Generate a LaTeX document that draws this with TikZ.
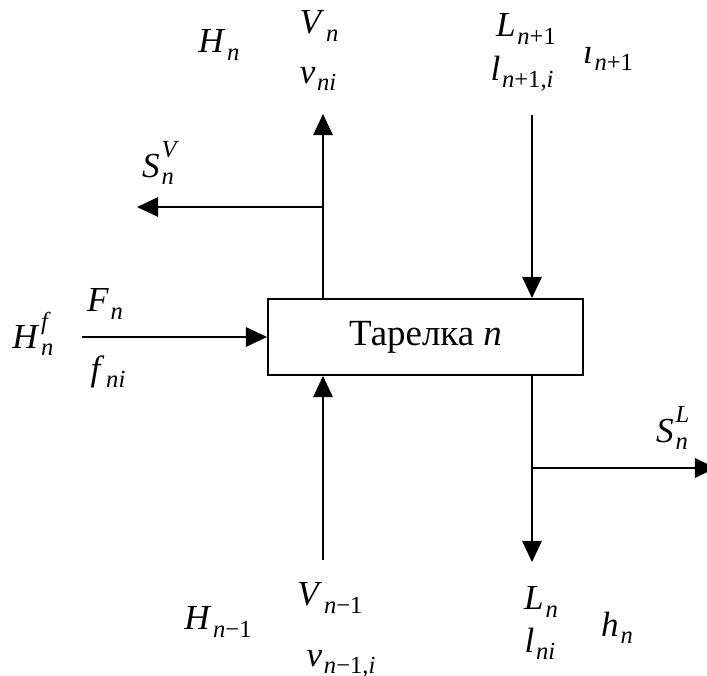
\documentclass[tikz,border=0pt]{standalone}
\usepackage{fontspec}
\setmainfont{Liberation Serif}[ItalicFont={Liberation Serif Italic}]
\usetikzlibrary{arrows.meta}

\newcommand{\subfont}{\fontsize{14}{14}\selectfont}
\newcommand{\flowsym}[3]{\textit{#1}\kern1pt\makebox[0pt][l]{\raisebox{0.55em}{\subfont #3}}\raisebox{-0.2em}{\subfont #2}}

\tikzset{
  flow/.style={-{Triangle[length=12pt,width=11pt]}},
  sym/.style={inner sep=0pt, font=\fontsize{20}{24}\selectfont}
}

\begin{document}
\begin{tikzpicture}[x=0.02cm, y=-0.02cm, line width=1.1pt]
    \useasboundingbox (0,0) rectangle (707,676);

    % Nodes
    \node[draw, rectangle, minimum width=6.3cm, minimum height=1.52cm, font=\fontsize{21}{25}\selectfont] (tray) at (425.5,337) {Тарелка \textit{n}};

    \node[sym] (hn) at (219,45) {\flowsym{H}{\textit{n}}{}};
    \node[sym] (vn) at (319,26) {\flowsym{V}{\textit{n}}{}};
    \node[sym] (vni) at (318,77) {\flowsym{v}{\textit{ni}}{}};
    \node[sym] (lup) at (526,29) {\flowsym{L}{\textit{n}+1}{}};
    \node[sym] (lupi) at (522,74) {\flowsym{l}{\textit{n}+1,\textit{i}}{}};
    \node[sym] (hup) at (608,57) {\flowsym{ı}{\textit{n}+1}{}};
    \node[sym] (hf) at (33,334) {\flowsym{H}{\textit{n}}{\textit{f}}};
    \node[sym] (fn) at (105,304) {\flowsym{F}{\textit{n}}{}};
    \node[sym] (fni) at (108,372) {\flowsym{f}{\textit{ni}}{}};
    \node[sym] (sv) at (158,163) {\flowsym{S}{\textit{n}}{\textit{V}}};
    \node[sym] (sl) at (672,428) {\flowsym{S}{\textit{n}}{\textit{L}}};
    \node[sym] (hdown) at (218,622) {\flowsym{H}{\textit{n}−1}{}};
    \node[sym] (vdown) at (330,598) {\flowsym{V}{\textit{n}−1}{}};
    \node[sym] (vdowni) at (341,662) {\flowsym{v}{\textit{n}−1,\textit{i}}{}};
    \node[sym] (ln) at (541,602) {\flowsym{L}{\textit{n}}{}};
    \node[sym] (lni) at (540,644) {\flowsym{l}{\textit{ni}}{}};
    \node[sym] (hln) at (617,628) {\flowsym{h}{\textit{n}}{}};

    % Free ends
    \coordinate (vout) at (323,114);
    \coordinate (vsplit) at (323,207);
    \coordinate (svout) at (137,207);
    \coordinate (lin) at (532,115);
    \coordinate (fin) at (82,337);
    \coordinate (vin) at (323,560);
    \coordinate (lout) at (532,562);
    \coordinate (lsplit) at (532,468);
    \coordinate (slout) at (716,468);

    % Arrows
    \draw[flow] (tray.north -| vout) -- (vout);
    \draw[flow] (vsplit) -- (svout);
    \draw[flow] (lin) -- (tray.north -| lin);
    \draw[flow] (fin) -- (tray.west);
    \draw[flow] (vin) -- (tray.south -| vin);
    \draw[flow] (tray.south -| lout) -- (lout);
    \draw[flow] (lsplit) -- (slout);
\end{tikzpicture}
\end{document}
